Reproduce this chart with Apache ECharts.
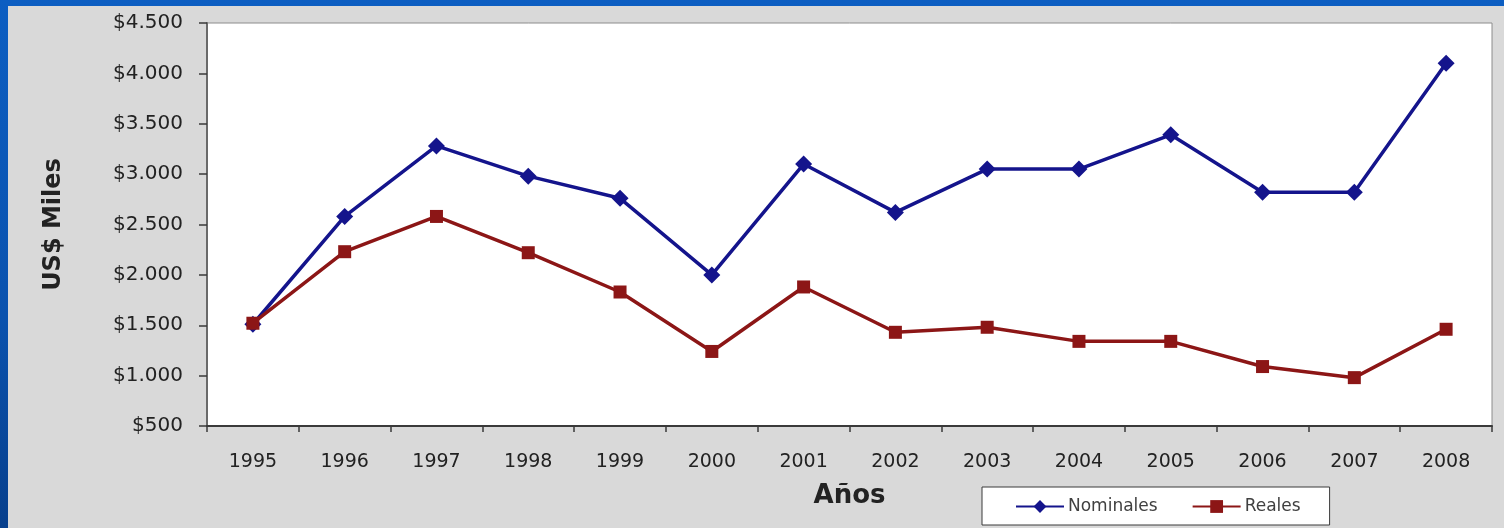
<!DOCTYPE html>
<html>
<head>
<meta charset="utf-8">
<script src="https://cdn.jsdelivr.net/npm/echarts@6/dist/echarts.min.js"></script>
<style>
  html, body { margin: 0; padding: 0; width: 1504px; height: 528px; overflow: hidden; }
  body { background: linear-gradient(180deg, #0c5ec2 0%, #0a52ae 60%, #073f8c 100%); position: relative; }
  #chart { position: absolute; left: 8px; top: 6px; width: 1496px; height: 522px; background: #d9d9d9; }
</style>
</head>
<body>
<div id="chart"></div>
<script>
// Años del periodo
const years = ['1995', '1996', '1997', '1998', '1999', '2000', '2001', '2002', '2003', '2004', '2005', '2006', '2007', '2008'];
// Montos en miles de US$
const nominales = [1510, 2580, 3280, 2980, 2760, 2000, 3100, 2620, 3050, 3050, 3390, 2820, 2820, 4100];
const reales = [1520, 2230, 2580, 2220, 1830, 1240, 1880, 1430, 1480, 1340, 1340, 1090, 980, 1460];

// Formato de eje: $4.500
function fmtDollar(v) {
  return '$' + String(v).replace(/\B(?=(\d{3})+(?!\d))/g, '.');
}

const FONT = 'DejaVu Sans';
const chart = echarts.init(document.getElementById('chart'), null, { renderer: 'canvas' });

chart.setOption({
  animation: false,
  textStyle: { fontFamily: FONT },
  grid: {
    left: 199, top: 17, right: 12, bottom: 102,
    show: true, backgroundColor: '#ffffff', borderColor: '#8c8c8c', borderWidth: 1
  },
  legend: {
    data: ['Nominales', 'Reales'],
    left: 974, top: 481,
    padding: [11, 29, 10, 33],
    itemWidth: 48, itemHeight: 16, itemGap: 34,
    backgroundColor: '#ffffff', borderColor: '#3a3a3a', borderWidth: 1, borderRadius: 0,
    textStyle: { fontFamily: FONT, fontSize: 17, color: '#404040', padding: [0, 0, 0, -1] }
  },
  xAxis: {
    type: 'category',
    data: years,
    boundaryGap: true,
    name: 'Años',
    nameLocation: 'middle',
    nameGap: 57,
    nameTextStyle: { fontFamily: FONT, fontSize: 26, fontWeight: 'bold', color: '#222' },
    axisLine: { lineStyle: { color: '#3a3a3a', width: 2 } },
    axisTick: { show: true, length: 6, alignWithLabel: false, lineStyle: { color: '#3a3a3a', width: 1.5 } },
    axisLabel: { fontFamily: FONT, fontSize: 19, color: '#222', margin: 27 },
    splitLine: { show: false }
  },
  yAxis: {
    type: 'value',
    min: 500, max: 4500, interval: 500,
    name: 'US$ Miles',
    nameLocation: 'middle',
    nameGap: 141,
    nameRotate: 90,
    nameTextStyle: { fontFamily: FONT, fontSize: 24, fontWeight: 'bold', color: '#222' },
    axisLine: { show: true, lineStyle: { color: '#6a6a6a', width: 2 } },
    axisTick: { show: true, length: 8, lineStyle: { color: '#3a3a3a', width: 1.5 } },
    axisLabel: { fontFamily: FONT, fontSize: 20, color: '#222', margin: 24, formatter: fmtDollar },
    splitLine: { show: false }
  },
  series: [
    {
      name: 'Nominales',
      type: 'line',
      data: nominales,
      symbol: 'diamond',
      symbolSize: 17,
      color: '#14148c',
      lineStyle: { width: 3.5, color: '#14148c' },
      itemStyle: { color: '#14148c' },
      z: 2
    },
    {
      name: 'Reales',
      type: 'line',
      data: reales,
      symbol: 'rect',
      symbolSize: 13,
      color: '#8c1616',
      lineStyle: { width: 3.5, color: '#8c1616' },
      itemStyle: { color: '#8c1616' },
      z: 3
    }
  ]
});
</script>
</body>
</html>
